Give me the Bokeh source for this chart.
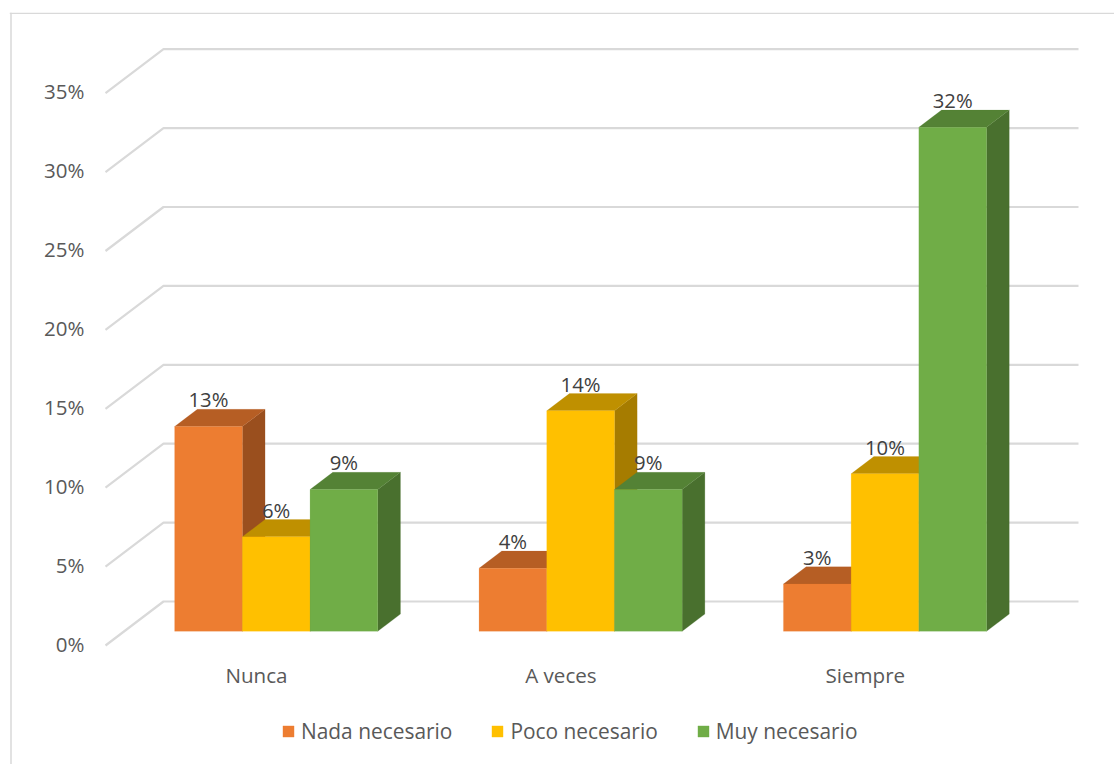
from bokeh.embed import file_html
from bokeh.resources import INLINE
from bokeh.plotting import figure
from bokeh.models import (Range1d, LinearAxis, FixedTicker, Legend, LegendItem, Span)
from bokeh.core.properties import value

categories = ["Nunca", "A veces", "Siempre"]
series_names = ["Nada necesario", "Poco necesario", "Muy necesario"]
nada = [13, 4, 3]
poco = [6, 14, 10]
muy = [9, 9, 32]
series_values = [nada, poco, muy]
y_ticks = [0, 5, 10, 15, 20, 25, 30, 35]

front_colors = ["#ED7D31", "#FFC000", "#70AD47"]
top_colors = ["#B65E24", "#BF9000", "#548235"]
side_colors = ["#9A4F1E", "#A67C00", "#49702E"]
GRID = "#D9D9D9"
TEXT = "#595959"
LABEL = "#404040"
FONT = "Open Sans"

W, H = 1114, 764
LEFT, TOP = 9, 12          # frame offset within the figure
PX0, PY0 = LEFT, TOP       # frame origin in picture pixels
PX1, PY1 = W, H

X_UNIT = 304.4            # px per category
Y_UNIT = 15.75            # px per percent, front plane
X_ORIGIN = 256.0          # px of the first category label
Y_ORIGIN = 630.8          # px of the bars' base

def xr(px):
    return (px - X_ORIGIN) / X_UNIT

def yr(py):
    return (Y_ORIGIN - py) / Y_UNIT

p = figure(width=W, height=H, output_backend="svg", toolbar_location=None,
           x_range=Range1d(xr(PX0), xr(PX1)), y_range=Range1d(yr(PY1), yr(PY0)),
           min_border_left=LEFT, min_border_top=TOP, min_border_right=0, min_border_bottom=0,
           outline_line_color=None, background_fill_color="white", border_fill_color="white")
p.xgrid.visible = False
p.ygrid.visible = False
p.xaxis.visible = False
p.yaxis.visible = False

# Chart border
p.add_layout(Span(location=xr(10.5), dimension="height", line_color=GRID, line_width=1.5))
p.add_layout(Span(location=yr(12.8), dimension="width", line_color=GRID, line_width=1.5))

# Walls' gridlines
BACK_SCALE = 15.78 / Y_UNIT
BACK_OFF = (Y_ORIGIN - 601.0) / Y_UNIT
SIDE_OFF = (Y_ORIGIN - 645.0) / Y_UNIT
for t in y_ticks:
    yb = t * BACK_SCALE + BACK_OFF
    yf = t * BACK_SCALE + SIDE_OFF
    p.line([xr(105), xr(163), xr(1078)], [yf, yb, yb], line_color=GRID, line_width=2.2)

# Bars
BAR_W = 67.7 / X_UNIT
BAR_SHIFT = 19.7 / X_UNIT
DX = 22.7 / X_UNIT
DY = 17.2 / Y_UNIT
legend_renderers = [None, None, None]
label_x, label_y, label_t = [], [], []
for c in range(len(categories)):
    for s in range(len(series_names)):
        v = series_values[s][c]
        x0 = c + BAR_SHIFT + (s - 1.5) * BAR_W
        x1 = x0 + BAR_W
        p.patch([x1, x1 + DX, x1 + DX, x1], [0, DY, v + DY, v],
                fill_color=side_colors[s], line_color=side_colors[s], line_width=0.2)
        p.patch([x0, x0 + DX, x1 + DX, x1], [v, v + DY, v + DY, v],
                fill_color=top_colors[s], line_color=top_colors[s], line_width=0.2)
        r = p.quad(left=x0, right=x1, bottom=0, top=v,
                   fill_color=front_colors[s], line_color=front_colors[s], line_width=0.2)
        if legend_renderers[s] is None:
            legend_renderers[s] = r
        label_x.append((x0 + x1) / 2)
        label_y.append(v + DY + 10 / Y_UNIT)
        label_t.append(f"{v}%")

p.text(x=label_x, y=label_y, text=label_t, text_align="center", text_baseline="alphabetic",
       text_font=value(FONT), text_font_size="20.3px", text_color=LABEL)

# Axes
p.extra_y_ranges["ticks"] = Range1d((643.5 - PY1) / 15.8, (643.5 - PY0) / 15.8)
yaxis = LinearAxis(y_range_name="ticks", ticker=FixedTicker(ticks=y_ticks),
                   major_label_overrides={t: f"{t}%" for t in y_ticks},
                   axis_line_color=None, major_tick_line_color=None, minor_tick_line_color=None,
                   major_label_text_font=FONT, major_label_text_font_size="20.5px",
                   major_label_text_color=TEXT, major_label_standoff=5,
                   fixed_location=xr(95))
p.add_layout(yaxis, "left")

xaxis = LinearAxis(ticker=FixedTicker(ticks=list(range(len(categories)))),
                   major_label_overrides={i: c for i, c in enumerate(categories)},
                   axis_line_color=None, major_tick_line_color=None, minor_tick_line_color=None,
                   major_label_text_font=FONT, major_label_text_font_size="20.6px",
                   major_label_text_color=TEXT, major_label_standoff=4,
                   fixed_location=yr(650))
p.add_layout(xaxis, "below")

# Legend
legend = Legend(items=[LegendItem(label=n, renderers=[r]) for n, r in zip(series_names, legend_renderers)],
                orientation="horizontal", location=(272, 19),
                background_fill_alpha=0, border_line_color=None, padding=0, margin=0,
                glyph_width=14, glyph_height=14, label_standoff=6, spacing=38,
                label_text_font=FONT, label_text_font_size="20.9px", label_text_color=TEXT)
p.add_layout(legend, "center")

open("out.html", "w").write(file_html(p, INLINE))
